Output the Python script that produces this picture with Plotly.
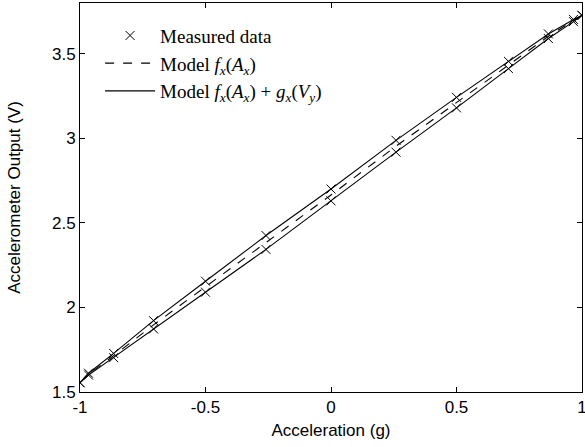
import plotly.graph_objects as go

# Acceleration positions (g)
accel = [-1.0, -0.966, -0.866, -0.707, -0.5, -0.259, 0.0, 0.259, 0.5, 0.707, 0.866, 0.966, 1.0]
# Measured output, upper branch and lower branch (V)
upper = [1.555, 1.611, 1.728, 1.922, 2.155, 2.425, 2.700, 2.988, 3.242, 3.455, 3.617, 3.703, 3.727]
lower = [1.555, 1.600, 1.703, 1.873, 2.090, 2.343, 2.630, 2.918, 3.180, 3.412, 3.590, 3.690, 3.727]
# Linear model f_x(A_x)
model_f = [1.555, 1.605, 1.715, 1.897, 2.122, 2.384, 2.665, 2.953, 3.211, 3.433, 3.603, 3.697, 3.727]

xticks = [-1, -0.5, 0, 0.5, 1]
xticklabels = ["-1", "-0.5", "0", "0.5", "1"]
yticks = [1.5, 2, 2.5, 3, 3.5]
yticklabels = ["1.5", "2", "2.5", "3", "3.5"]

fig = go.Figure()

fig.add_trace(go.Scatter(
    x=accel + accel, y=upper + lower, mode="markers",
    marker=dict(symbol="x-thin-open", size=9, color="black",
                line=dict(color="black", width=1)),
    name="Measured data"))

fig.add_trace(go.Scatter(
    x=accel, y=model_f, mode="lines",
    line=dict(color="black", width=1.1, dash="dash"),
    name="Model <i>f<sub>x</sub></i>(<i>A<sub>x</sub></i>)"))

loop_x = accel + accel[::-1]
loop_y = upper + lower[::-1]
fig.add_trace(go.Scatter(
    x=loop_x, y=loop_y, mode="lines",
    line=dict(color="black", width=1.1),
    name="Model <i>f<sub>x</sub></i>(<i>A<sub>x</sub></i>) + <i>g<sub>x</sub></i>(<i>V<sub>y</sub></i>)"))

axis_common = dict(
    showgrid=False, zeroline=False, showline=True, linecolor="black", linewidth=1,
    mirror="ticks", ticks="inside", ticklen=5, tickcolor="black", automargin=False,
    ticklabeloverflow="allow",
    tickfont=dict(family="Liberation Sans, Arial", size=17, color="black"),
)

fig.update_layout(
    width=585, height=447,
    margin=dict(l=80, r=3, t=3, b=55),
    paper_bgcolor="white", plot_bgcolor="white",
    xaxis=dict(range=[-1, 1], tickvals=xticks, ticktext=xticklabels,
               title=dict(text="Acceleration (g)", standoff=7,
                          font=dict(family="Liberation Sans, Arial", size=17, color="black")),
               **axis_common),
    yaxis=dict(range=[1.5, 3.8], tickvals=yticks, ticktext=yticklabels,
               title=dict(text="Accelerometer Output (V)", standoff=27,
                          font=dict(family="Liberation Sans, Arial", size=17, color="black")),
               **axis_common),
    showlegend=True,
    legend=dict(x=0.04, y=0.965, xanchor="left", yanchor="top",
                bgcolor="rgba(0,0,0,0)", borderwidth=0,
                font=dict(family="Liberation Serif, Times New Roman", size=19, color="black"),
                tracegroupgap=0, itemwidth=50),
)

fig.write_html("out.html", config={"displayModeBar": False},
               post_script="document.body.style.margin='0';document.body.style.overflow='hidden';")
